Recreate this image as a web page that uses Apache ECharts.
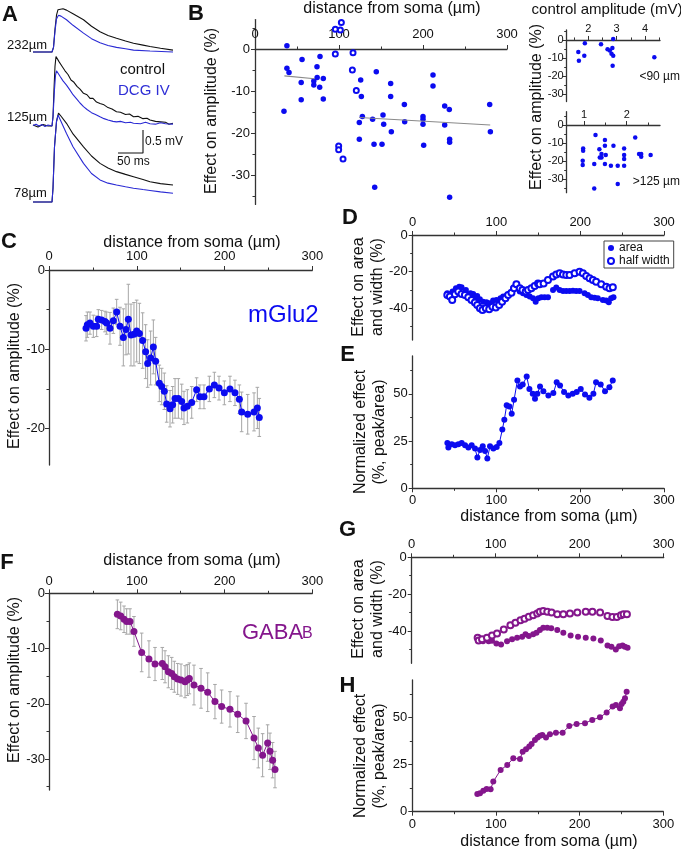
<!DOCTYPE html>
<html><head><meta charset="utf-8">
<script src="https://cdn.jsdelivr.net/npm/echarts@6/dist/echarts.min.js"></script>
<style>html,body{margin:0;padding:0;background:#fff}#c{width:681px;height:853px}</style>
</head><body><div id="c"></div>
<script>
// ================= DATA =================
// Panel A: example traces (time ms, amplitude mV relative to baseline)
const aTopControl = [[0,0],[38,0],[41,0.1],[44,0.5],[47,0.8],[50,0.92],[54,0.96],[60,0.94],[67,0.91],[80,0.83],[101,0.70],[117,0.56],[134,0.44],[150,0.36],[167,0.30],[185,0.24],[201,0.19],[220,0.15],[234,0.12],[255,0.08],[280,0.04]];
const aTopDCG = [[0,0],[38,0],[41,0.1],[44,0.45],[47,0.72],[51,0.80],[56,0.78],[67,0.70],[80,0.58],[101,0.41],[117,0.29],[134,0.20],[150,0.14],[167,0.10],[185,0.07],[201,0.04],[234,0.02],[280,0]];
const aMidControl = [[0,0.02],[10,-0.02],[20,0.03],[30,0],[38,0],[40,0.2],[42,0.8],[44,1.3],[46,1.51],[48,1.48],[52,1.4],[58,1.3],[64,1.2],[70,1.12],[76,1.0],[82,0.95],[88,0.86],[94,0.8],[101,0.71],[108,0.68],[114,0.6],[120,0.6],[127,0.52],[134,0.49],[142,0.46],[150,0.40],[158,0.37],[167,0.31],[175,0.3],[185,0.25],[193,0.26],[201,0.2],[210,0.21],[220,0.16],[228,0.17],[234,0.13],[245,0.1],[255,0.09],[265,0.08],[272,0.04],[280,0.06]];
const aMidDCG = [[0,0.01],[6,0.04],[12,0],[18,0.03],[24,-0.01],[30,0.02],[38,0],[40,0.2],[43,0.8],[45,1.1],[47,1.2],[50,1.16],[54,1.08],[60,0.98],[67,0.89],[74,0.78],[80,0.68],[88,0.58],[94,0.5],[101,0.42],[108,0.36],[117,0.29],[125,0.25],[134,0.2],[142,0.16],[150,0.13],[160,0.1],[167,0.09],[175,0.1],[185,0.07],[195,0.08],[201,0.06],[215,0.05],[225,0.08],[234,0.05],[245,0.04],[255,0.07],[265,0.05],[280,0.04]];
const aBotControl = [[0,0],[38,0],[40,0.3],[43,1.2],[47,1.75],[51,1.93],[55,1.88],[67,1.71],[80,1.48],[101,1.2],[117,1.0],[134,0.84],[150,0.74],[167,0.66],[185,0.6],[201,0.55],[220,0.49],[234,0.44],[255,0.4],[280,0.37]];
const aBotDCG = [[0,0],[38,0],[40,0.3],[43,1.2],[47,1.75],[50,1.89],[54,1.8],[67,1.49],[80,1.2],[101,0.84],[117,0.62],[134,0.48],[150,0.41],[167,0.37],[185,0.33],[201,0.30],[220,0.27],[234,0.25],[255,0.22],[280,0.19]];
const aTraceOffsets = [3.435, 1.826, 0.174];
const aDistanceLabels = ['232µm','125µm','78µm'];
const aScaleBar = [[170,1.24],[220,1.24],[220,1.74]]; // 50 ms, 0.5 mV

// Panel B: effect vs distance
const bDist = [38,38,40.5,34.5,56,55,55,73.8,70,70,74,77.4,77,81.3,81.3,125.8,126.6,144.4,161.5,161.5,127.8,124.2,124.2,140,141.7,142.5,152.4,153.2,151.2,162.3,177.8,178.2,200,200,200,200.8,211.9,211.9,225.8,225.8,231.3,231.7,231.7,231.7,279.4,280.2];
const bEffect = [0.8,-4.6,-5.6,-14.8,-2.5,-8,-12.1,-4.2,-7.6,-8.6,-6.8,-1.8,-9.1,-7,-11.9,-7.4,-11.3,-5.4,-8.2,-11.3,-16.1,-17.5,-21.5,-16.7,-22.7,-32.9,-15.7,-17.9,-22.7,-19.7,-13.2,-17.3,-16.1,-16.7,-17.9,-22.9,-6.2,-8.8,-13.6,-18.1,-14.4,-21.5,-22.2,-35.3,-13.2,-19.7];
const bOpenDist = [102.8,95.6,101.6,95.6,116.7,115.9,120.6,99.6,99.6,104.8];
const bOpenEffect = [6.3,4.7,4.5,-1.2,-0.9,-5,-9.9,-23.1,-24,-26.2];
const bFitNearDist = [35,71], bFitNearEffect = [-6.4,-7.1];
const bFitFarDist = [124,280], bFitFarEffect = [-16.3,-18.1];
// Panel B insets: effect vs control amplitude
const nearAmp = [1.65,1.67,1.88,1.86,2.45,2.68,2.76,2.85,2.82,2.88,2.86,2.88,4.33];
const nearEffect = [-6.7,-11.5,-1.8,-8.7,-2.4,-5.1,-5.8,-4.5,-7.6,-8.7,-14.2,0.5,-9.6];
const farAmp = [1.27,0.98,0.98,0.97,0.97,1.24,1.24,1.36,1.41,1.41,1.37,1.49,1.49,1.51,1.49,1.63,1.69,1.79,1.79,1.94,1.94,1.94,1.94,2.2,2.29,2.34,2.34,2.56];
const farEffect = [-5.6,-13,-14.3,-19.8,-22.2,-21.7,-35.2,-13.5,-16.1,-18.1,-18.1,-11.5,-8.3,-16.7,-21.7,-22.6,-11.5,-22.6,-32.8,-13,-16.7,-18.9,-22.6,-7,-16.1,-17.6,-16.1,-16.7];

// Panel C: mGlu2 running average
const cDist = [42.2,43.7,46.7,50.5,54.3,56.2,60,63.8,65.7,69.5,73.3,77.1,80.9,84.7,87.7,90.4,93.4,96.8,99.9,103,106.7,110.1,112.4,115.8,118.9,121.5,125.7,128.4,131.4,134.1,137.9,140.9,143.6,147.4,151.2,153.8,157.6,162.6,168.2,172,176.6,182.7,188.4,193.7,199.8,206.2,211.9,216.9,219.5,226.4,233.6,237.4,239.6];
const cEffect = [-7.35,-6.9,-6.7,-7.1,-7.1,-6.2,-6.3,-6.5,-6.7,-7.35,-6.4,-5.3,-7.1,-8.5,-7.5,-6.2,-8.2,-8.1,-7.7,-8,-8.9,-10.3,-11.8,-11.1,-9.7,-11.5,-14.3,-14.7,-15.3,-16.9,-17.5,-17,-16.2,-16.2,-16.6,-17.4,-17.2,-16.7,-15.1,-16,-16,-15,-14.5,-14.9,-15.5,-15,-15.5,-16.3,-17.9,-18.2,-17.9,-17.4,-18.6];
const cSem = [1.6,1.6,1.4,1.4,1.3,1.2,1.2,1.3,1.4,2,1.6,1.6,2.4,3.6,3.2,4.4,3.9,4,3.9,3.8,3.5,3.4,3,3.4,3.4,3,2.3,2.3,2.3,2.3,2.3,2.3,2.5,2.5,2.2,2.1,2.1,2,1.5,1.5,1.5,1.6,1.6,1.5,1.5,1.6,1.6,1.8,2.5,2.5,2.4,2.6,2.4];

// Panel D: mGlu2 area / half width
const dAreaDist = [41.3,44.4,47.6,51.6,55.6,58.3,63.5,69,72.2,74.2,77,80.2,84.1,88.1,92,96,100,104.8,108,112,115.9,119.8,123.8,127.8,131.7,135.7,139.7,143.7,146.8,150,153.6,157.5,161.5,167.5,171.4,175.4,179.4,183.3,187.3,191.3,195.2,199.2,205.2,209.1,213.1,217.1,221,227,231,234.1,236.9,239.7];
const dAreaEffect = [-31.8,-33.3,-30.9,-29.1,-28.2,-28.5,-30,-31.8,-32.2,-33.6,-33.3,-35.1,-36.4,-36.7,-37.3,-35.8,-35.5,-34.5,-33.6,-33.1,-31.8,-29.1,-27.3,-30.9,-31.8,-32.7,-33.6,-34.5,-36.4,-34.5,-34,-34,-34,-30,-28.7,-30,-30.5,-30.5,-30.5,-30.4,-30.5,-30.5,-31.8,-32.7,-34,-34.2,-34.5,-35.5,-35.8,-36.7,-34.5,-34];
const dHalfDist = [41.3,44.4,47.2,50.4,54.4,58.3,62.3,66.3,70.2,74.2,77,80.2,83.3,87.3,91.3,95.2,99.2,103.2,106.7,110.7,113.9,117.9,121,123.8,127.8,131,134.9,137.7,141.7,145.6,149.6,151.6,156.3,161.5,167.5,171.4,175.4,179.4,183.3,187.3,193.3,199.2,203.2,207.1,211.1,215.1,219,225,231,234.9,238.9];
const dHalfEffect = [-32.7,-33.6,-35.5,-32.4,-30.9,-32.2,-32.7,-34,-35.5,-36.9,-38.2,-40,-40.9,-40,-40.5,-39.1,-39.6,-38.2,-36.4,-34.5,-32.7,-31.5,-29.1,-26.9,-29.1,-30,-30.9,-30,-29.1,-27.8,-26.4,-26.9,-26.4,-24.5,-22.7,-21.5,-20.9,-21.5,-21.8,-21.8,-20.9,-20,-20.9,-22.4,-23.6,-24.5,-25.5,-26.9,-28.2,-29.1,-28.5];

// Panel E: mGlu2 normalized effect
const eDist = [41.4,42.6,46.6,50.5,54.5,58.5,62.5,66.5,70.4,74.4,77.2,80.4,83.6,86.4,89.1,92.3,96.3,100.3,103.5,107,109.4,112.2,115.4,118.2,121,125,128.1,131.3,136.1,139.3,143.3,146,148.8,152,156,162,167.9,171.9,175.9,180.7,185.8,191,195.8,200.6,205.7,210.9,215.7,218.9,224.4,229.6,234.8,238.8];
const eRatio = [24,21.6,23.3,22.8,23.3,24,22.8,21.6,22.8,21.1,16.3,20.2,22.3,19.8,15.8,22.3,21.1,21.9,24,31.1,36.3,43.9,43.3,39.5,46.8,57,53.9,54.9,59.1,52.6,50,47.4,50,53.9,51.4,49.1,50.4,56.1,54.4,50.9,49.1,50,50.9,52.6,49.6,47.9,50,56.1,54.9,51.4,53.5,57];

// Panel F: GABAB running average
const fDist = [77.9,81.7,85.5,88.5,92.3,96.8,105.6,113.9,120.8,129.1,132.2,136,139.8,142.8,146.6,150.4,155,157.6,159.9,165.2,173.2,180.8,189.1,196.7,206.2,215,224.5,233.6,238.5,243.4,249.1,251.8,254.8,257.5];
const fEffect = [-3.8,-4.1,-4.7,-5.1,-5.1,-6.9,-10.7,-11.9,-12.8,-12.7,-13.3,-14.2,-14.5,-15.1,-15.5,-15.7,-16,-15.7,-15.4,-16.6,-17.2,-17.9,-19.6,-20.5,-21,-21.9,-23.1,-26.2,-28,-29.3,-27.1,-28.6,-30.2,-31.9];
const fSem = [2.6,2.5,2.4,2.3,2.3,2.7,3.5,3.3,3,2.9,2.9,2.9,2.9,2.8,2.8,2.9,2.9,2.8,2.8,3.6,3.6,3.5,3.1,3,3.2,3.3,3.2,3.9,3.6,3.9,3.3,3.3,3.2,3.3];

// Panel G: GABAB area / half width
const gAreaDist = [79.7,84.9,91.6,95.6,100.8,106.4,113.5,119.5,125.5,131.5,135.5,139.4,144.6,148.6,152.6,156.6,161.4,166.1,173.3,180.5,189.2,198,207.2,216.3,225.1,233.1,237.8,243,247,251,253.8,257];
const gAreaEffect = [-44.5,-45.6,-45.5,-45.2,-46.7,-47.3,-45.5,-44.5,-43.6,-43.1,-41.8,-42.7,-41.8,-40.9,-39.5,-38.2,-38.2,-38.5,-39.5,-40.9,-42.4,-43.1,-43.6,-44,-45.1,-47.8,-48.5,-50,-48.2,-47.8,-48.5,-49.1];
const gHalfDist = [78.5,79.7,83.7,89.6,95.6,101.6,109.6,117.5,123.5,129.5,134.3,139.4,144.6,149.4,152.6,156.6,161.4,166.5,173.3,180.5,188.4,197.2,207.2,215.1,224.3,233.1,239,244.2,249,252.2,256.2];
const gHalfEffect = [-43.6,-45.1,-44.5,-43.6,-42.4,-41.3,-39.1,-36.9,-35.5,-34.2,-33.3,-32.2,-31.5,-30.5,-29.6,-29.1,-29.5,-30,-30.9,-30.9,-30.5,-30,-29.6,-29.5,-30,-31.8,-32.4,-32.4,-31.5,-30.9,-30.9];

// Panel H: GABAB normalized effect
const hDist = [77.7,80.9,84.9,88.8,93.6,96.8,105.6,113.5,120.7,128.7,131.9,135.9,139.8,142.6,146.6,149.8,152.6,155.4,159.8,164.5,171.7,179.7,187.6,196.4,206.4,215.1,224.3,232.3,239.4,243.4,248.2,250.2,252.2,254.2,256.2];
const hRatio = [9.4,9.8,11.2,12.1,11.9,16,22.2,24.8,28.4,28,31.9,33.2,34.6,36,38.1,39.5,40.4,40.8,39.5,41.1,42,42,45.6,46.6,47,48.8,50.2,52.7,55.9,56.7,55,57.3,58.5,60.3,63.8];

// Tick values
const distMajor = [0,100,200,300], distMinor = [50,150,250];
const ampMajor = [0,-10,-20,-30];
const areaMajor = [0,-20,-40], areaMinor = [-10,-30,-50];
const normMajor = [0,25,50], normMinor = [12.5,37.5,62.5];

// ================= STYLE / LAYOUT =================
const FONT = 'Liberation Sans';
const BLUE = '#0b0bf0', PURPLE = '#84168c', ERR = '#a6a6a6', AXC = '#333333';
const TRACE_BLUE = '#2a2ad4';

const grids = [
  [33,5,140,205],        // 0 A
  [255,19.6,252,184.8],  // 1 B
  [566.7,30,93.3,71.5],  // 2 B inset top
  [566.7,111.7,93.3,81], // 3 B inset bottom
  [49,270,263.3,195],    // 4 C
  [412.7,235,251.3,105], // 5 D
  [412.7,356,251.3,132.3],// 6 E
  [49,593.3,263.3,196.7],// 7 F
  [411.7,557.3,252,106], // 8 G
  [412.3,680,251,131.7]  // 9 H
];

const xAxis = [], yAxis = [];
function mk(gi, o, overlay) {
  const hidden = !!o.hidden;
  return {
    type:'value', gridIndex:gi, min:o.min, max:o.max, position:o.pos, show:!hidden,
    offset:o.offset || 0,
    splitLine:{show:false}, splitArea:{show:false},
    axisLine:{show:!overlay, onZero:false, lineStyle:{color:AXC, width:1.3}},
    axisTick:{show:!hidden, inside:false, length: overlay ? 4 : 2.5,
      customValues: overlay ? o.major : o.minor, lineStyle:{color:AXC, width:1}},
    minorTick:{show:false},
    axisLabel:{show:!overlay && !hidden, customValues:o.major, fontSize:o.fs || 13,
      color:'#111', margin:o.margin == null ? 5 : o.margin, fontFamily:FONT},
    axisPointer:{show:false}, silent:true
  };
}
function addCart(gi, xo, yo) {
  if (xo.atZero) { // place the top x axis on the y = 0 line
    xo.offset = -(yo.max / (yo.max - yo.min)) * grids[gi][3];
  }
  const xi = xAxis.length; xAxis.push(mk(gi, xo, false), mk(gi, xo, true));
  const yi = yAxis.length; yAxis.push(mk(gi, yo, false), mk(gi, yo, true));
  return {xAxisIndex:xi, yAxisIndex:yi};
}

const cA  = addCart(0, {hidden:true,min:0,max:280}, {hidden:true,min:0,max:205/46});
const cB  = addCart(1, {min:0,max:300,pos:'top',atZero:true,major:distMajor,minor:distMinor,margin:8},
                       {min:-37,max:7,pos:'left',major:ampMajor,minor:[5,-5,-15,-25,-35],margin:5});
const cB1 = addCart(2, {min:1.24,max:4.53,pos:'top',atZero:true,major:[2,3,4],minor:[1.5,2.5,3.5,4.5],fs:11,margin:5},
                       {min:-34,max:5.5,pos:'left',major:ampMajor,minor:[5,-5,-15,-25],fs:11,margin:3});
const cB2 = addCart(3, {min:0.595,max:2.78,pos:'top',atZero:true,major:[1,2],minor:[1.5,2.5],fs:11,margin:5},
                       {min:-37.6,max:7.4,pos:'left',major:ampMajor,minor:[5,-5,-15,-25,-35],fs:11,margin:3});
const cC  = addCart(4, {min:0,max:300,pos:'top',major:distMajor,minor:distMinor,margin:7},
                       {min:-24.6,max:0,pos:'left',major:[0,-10,-20],minor:[-5,-15],margin:4});
const cD  = addCart(5, {min:0,max:300,pos:'top',major:distMajor,minor:distMinor,margin:6},
                       {min:-57.3,max:0,pos:'left',major:areaMajor,minor:areaMinor,margin:5});
const cE  = addCart(6, {min:0,max:300,pos:'bottom',major:distMajor,minor:distMinor,margin:6},
                       {min:0,max:70,pos:'left',major:normMajor,minor:normMinor,margin:5});
const cF  = addCart(7, {min:0,max:300,pos:'top',major:distMajor,minor:distMinor,margin:5},
                       {min:-35.6,max:0,pos:'left',major:ampMajor,minor:[-5,-15,-25,-35],margin:4});
const cG  = addCart(8, {min:0,max:300,pos:'top',major:distMajor,minor:distMinor,margin:6},
                       {min:-57.5,max:0,pos:'left',major:areaMajor,minor:areaMinor,margin:5});
const cH  = addCart(9, {min:0,max:300,pos:'bottom',major:distMajor,minor:distMinor,margin:6},
                       {min:0,max:70,pos:'left',major:normMajor,minor:normMinor,margin:5});

const zip = (xs, ys) => xs.map((x, i) => [x, ys[i]]);
const zip3 = (xs, ys, es) => xs.map((x, i) => [x, ys[i], es[i]]);
const shift = (arr, off) => arr.map(p => [p[0], p[1] + off]);

function errRender(color) {
  return function (params, api) {
    const x = api.value(0), y = api.value(1), e = api.value(2);
    const p1 = api.coord([x, y + e]), p2 = api.coord([x, y - e]);
    const s = {stroke:color, lineWidth:1};
    return {type:'group', children:[
      {type:'line', shape:{x1:p1[0],y1:p1[1],x2:p2[0],y2:p2[1]}, style:s},
      {type:'line', shape:{x1:p1[0]-1.8,y1:p1[1],x2:p1[0]+1.8,y2:p1[1]}, style:s},
      {type:'line', shape:{x1:p2[0]-1.8,y1:p2[1],x2:p2[0]+1.8,y2:p2[1]}, style:s}
    ]};
  };
}
function trace(c, data, color) {
  return Object.assign({type:'line', data, showSymbol:false, symbol:'none', smooth:false,
    lineStyle:{color, width:1.1}, silent:true, z:3}, c);
}
function scat(c, name, data, color, size, open) {
  return Object.assign({type:'scatter', name, data, symbol: open ? 'emptyCircle' : 'circle', symbolSize:size,
    itemStyle:{color, borderColor:color, borderWidth: open ? 1.1 : 0, opacity:1}, silent:true, z:4}, c);
}
function lineDots(c, data, color, size) {
  return Object.assign({type:'line', data, symbol:'circle', symbolSize:size, showSymbol:true,
    lineStyle:{color, width:1}, itemStyle:{color, borderWidth:0, opacity:1}, silent:true, z:4}, c);
}
function errBars(c, data) {
  return Object.assign({type:'custom', data, renderItem:errRender(ERR), encode:{x:0,y:1}, silent:true, z:2}, c);
}

const series = [
  // A
  trace(cA, shift(aTopControl, aTraceOffsets[0]), '#111'),
  trace(cA, shift(aTopDCG, aTraceOffsets[0]), TRACE_BLUE),
  trace(cA, shift(aMidControl, aTraceOffsets[1]), '#111'),
  trace(cA, shift(aMidDCG, aTraceOffsets[1]), TRACE_BLUE),
  trace(cA, shift(aBotControl, aTraceOffsets[2]), '#111'),
  trace(cA, shift(aBotDCG, aTraceOffsets[2]), TRACE_BLUE),
  trace(cA, aScaleBar, '#111'),
  // B
  scat(cB, 'b', zip(bDist, bEffect), BLUE, 5.5, false),
  scat(cB, 'bo', zip(bOpenDist, bOpenEffect), BLUE, 5, true),
  Object.assign(trace(cB, zip(bFitNearDist, bFitNearEffect), '#8a8a8a'), {z:5}),
  Object.assign(trace(cB, zip(bFitFarDist, bFitFarEffect), '#8a8a8a'), {z:5}),
  scat(cB1, 'near', zip(nearAmp, nearEffect), BLUE, 4.5, false),
  scat(cB2, 'far', zip(farAmp, farEffect), BLUE, 4.5, false),
  // C
  errBars(cC, zip3(cDist, cEffect, cSem)),
  lineDots(cC, zip(cDist, cEffect), BLUE, 7),
  // D
  scat(cD, 'area', zip(dAreaDist, dAreaEffect), BLUE, 6, false),
  scat(cD, 'half width', zip(dHalfDist, dHalfEffect), BLUE, 6, true),
  // E
  lineDots(cE, zip(eDist, eRatio), BLUE, 6),
  // F
  errBars(cF, zip3(fDist, fEffect, fSem)),
  lineDots(cF, zip(fDist, fEffect), PURPLE, 7),
  // G
  scat(cG, 'gArea', zip(gAreaDist, gAreaEffect), PURPLE, 6, false),
  scat(cG, 'gHalf', zip(gHalfDist, gHalfEffect), PURPLE, 6, true),
  // H
  lineDots(cH, zip(hDist, hRatio), PURPLE, 6)
];

function txt(x, y, text, o) {
  o = o || {};
  return {type:'text', x, y, rotation:o.rot || 0, silent:true, z:10,
    style:{text, fill:o.color || '#111', fontSize:o.size || 16, fontWeight:o.bold ? 'bold' : 'normal',
      fontFamily:FONT, align:o.align || 'center', verticalAlign:o.va || 'middle', lineHeight:o.lh || undefined}};
}
const R = Math.PI / 2;
const graphic = [
  // panel letters
  txt(10,15,'A',{bold:true,size:22}), txt(196,14,'B',{bold:true,size:22}),
  txt(9,242,'C',{bold:true,size:22}), txt(350,218,'D',{bold:true,size:22}),
  txt(347.5,354.5,'E',{bold:true,size:22}), txt(7,562.5,'F',{bold:true,size:22}),
  txt(347.5,530,'G',{bold:true,size:22}), txt(347.5,686,'H',{bold:true,size:22}),
  // A labels
  txt(7,45,aDistanceLabels[0],{size:13,align:'left'}),
  txt(7,117,aDistanceLabels[1],{size:13,align:'left'}),
  txt(14,193,aDistanceLabels[2],{size:13,align:'left'}),
  txt(120,70,'control',{size:15,align:'left'}),
  txt(118,91,'DCG IV',{size:15,align:'left',color:'#2f2fd6'}),
  txt(145,142,'0.5 mV',{size:12,align:'left'}),
  txt(117,162,'50 ms',{size:12,align:'left'}),
  // B titles
  txt(392,9,'distance from soma (µm)',{size:16}),
  txt(212,111,'Effect on amplitude (%)',{size:16,rot:R}),
  txt(607,10,'control amplitude (mV)',{size:15}),
  txt(537,107,'Effect on amplitude (%)',{size:16,rot:R}),
  txt(680,77,'<90 µm',{size:12,align:'right'}),
  txt(680,182,'>125 µm',{size:12,align:'right'}),
  // C
  txt(192,243,'distance from soma (µm)',{size:16}),
  txt(14.5,366,'Effect on amplitude (%)',{size:16,rot:R}),
  txt(248,315,'mGlu2',{size:24,align:'left',color:BLUE}),
  // D / E
  txt(368,287,'Effect on area\nand width (%)',{size:16,rot:R,lh:19}),
  txt(370,432,'Normalized effect\n(%, peak/area)',{size:16,rot:R,lh:19}),
  txt(549,517,'distance from soma (µm)',{size:16}),
  // F
  txt(192,561,'distance from soma (µm)',{size:16}),
  txt(14.5,680,'Effect on amplitude (%)',{size:16,rot:R}),
  txt(242,633,'GABA',{size:22,align:'left',color:PURPLE}),
  txt(302,642,'B',{size:16,align:'left',va:'bottom',color:PURPLE}),
  // G / H
  txt(368,609,'Effect on area\nand width (%)',{size:16,rot:R,lh:19}),
  txt(370,756,'Normalized effect\n(%, peak/area)',{size:16,rot:R,lh:19}),
  txt(549,842,'distance from soma (µm)',{size:16})
];

const option = {
  animation:false,
  backgroundColor:'#ffffff',
  textStyle:{fontFamily:FONT},
  grid: grids.map(g => ({left:g[0], top:g[1], width:g[2], height:g[3], containLabel:false, outerBoundsMode:'none'})),
  xAxis, yAxis, series, graphic,
  legend:{show:true, data:['area','half width'], left:604, top:241, orient:'vertical',
    itemWidth:6, itemHeight:6, itemGap:1, padding:[1,4,1,3], borderColor:'#444', borderWidth:1,
    selectedMode:false, textStyle:{fontSize:12, color:'#111', fontFamily:FONT}}
};
const chart = echarts.init(document.getElementById('c'), null, {renderer:'canvas'});
chart.setOption(option);
</script></body></html>
